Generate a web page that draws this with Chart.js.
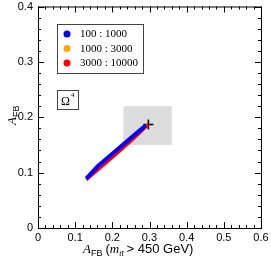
<!DOCTYPE html>
<html>
<head>
<meta charset="utf-8">
<script src="https://cdn.jsdelivr.net/npm/chart.js@4"></script>
<style>
  html, body { margin: 0; padding: 0; background: #fff; }
  #wrap { width: 271px; height: 262px; }
</style>
</head>
<body>
<div id="wrap"><canvas id="myChart" width="271" height="262"></canvas></div>
<script>
// Dữ liệu
const seriesLabels = ['100 : 1000', '1000 : 3000', '3000 : 10000'];
const seriesColors = ['#0000ff', '#ffa500', '#ff0000'];
const blueX = [0.13, 0.16, 0.20, 0.24, 0.27, 0.29];
const blueY = [0.089, 0.111, 0.134, 0.157, 0.174, 0.185];
const orangeX = [0.24, 0.27, 0.295];
const orangeY = [0.155, 0.172, 0.187];
const redX = [0.13, 0.17, 0.21, 0.25, 0.28, 0.297];
const redY = [0.087, 0.110, 0.133, 0.157, 0.176, 0.187];
const centralPoint = [0.297, 0.187];
const boxX = [0.23, 0.36];
const boxY = [0.15, 0.22];
const xTicks = [0, 0.1, 0.2, 0.3, 0.4, 0.5, 0.6];
const yTicks = [0, 0.1, 0.2, 0.3, 0.4];
const modelLabel = 'Ω';

function toPoints(xs, ys) {
    return xs.map((x, i) => ({ x: x, y: ys[i] }));
}

// Vẽ khung, vạch chia, hộp xám, chú thích
const decorPlugin = {
    id: 'decor',
    beforeDatasetsDraw(chart) {
        const ctx = chart.ctx;
        const xs = chart.scales.x, ys = chart.scales.y;
        ctx.save();
        ctx.fillStyle = '#dcdcdc';
        const x1 = xs.getPixelForValue(boxX[0]), x2 = xs.getPixelForValue(boxX[1]);
        const y1 = ys.getPixelForValue(boxY[1]), y2 = ys.getPixelForValue(boxY[0]);
        ctx.fillRect(x1, y1, x2 - x1, y2 - y1);
        ctx.restore();
    },
    afterDraw(chart) {
        const ctx = chart.ctx;
        const a = chart.chartArea;
        const xs = chart.scales.x, ys = chart.scales.y;
        ctx.save();
        ctx.strokeStyle = '#000';
        ctx.lineWidth = 1;
        ctx.strokeRect(a.left + 0.5, a.top + 0.5, a.right - a.left, a.bottom - a.top);

        // vạch chia hướng vào trong
        ctx.beginPath();
        for (let i = 0; i <= 30; i++) {
            const v = i * 0.02;
            const px = Math.round(xs.getPixelForValue(v)) + 0.5;
            const len = (i % 5 === 0) ? 6 : 3;
            ctx.moveTo(px, a.bottom); ctx.lineTo(px, a.bottom - len);
            ctx.moveTo(px, a.top); ctx.lineTo(px, a.top + len);
        }
        for (let i = 0; i <= 20; i++) {
            const v = i * 0.02;
            const py = Math.round(ys.getPixelForValue(v)) + 0.5;
            const len = (i % 5 === 0) ? 6 : 3;
            ctx.moveTo(a.left, py); ctx.lineTo(a.left + len, py);
            ctx.moveTo(a.right, py); ctx.lineTo(a.right - len, py);
        }
        ctx.stroke();

        // chú thích
        ctx.strokeStyle = '#444';
        ctx.strokeRect(57.5, 24.5, 86, 49);
        ctx.font = '11px "Liberation Serif", serif';
        ctx.textBaseline = 'middle';
        ctx.textAlign = 'left';
        seriesLabels.forEach((lab, i) => {
            const y = 34 + i * 14.5;
            ctx.fillStyle = seriesColors[i];
            ctx.beginPath();
            ctx.arc(67, y, 3.5, 0, Math.PI * 2);
            ctx.fill();
            ctx.fillStyle = '#000';
            ctx.fillText(lab, 80, y + 0.5);
        });

        // hộp Ω^4
        ctx.strokeRect(57.5, 90.5, 21, 19);
        ctx.font = '12px "Liberation Serif", serif';
        ctx.fillText(modelLabel, 61, 102);
        ctx.font = '7px "Liberation Serif", serif';
        ctx.fillText('4', 71, 95);

        // tiêu đề trục x
        ctx.textBaseline = 'alphabetic';
        let x = 83;
        const yb = 253;
        ctx.font = 'italic 13px "Liberation Serif", serif';
        ctx.fillText('A', x, yb); x += ctx.measureText('A').width;
        ctx.font = '9px "Liberation Sans", sans-serif';
        ctx.fillText('FB', x, yb + 3); x += ctx.measureText('FB').width + 3;
        ctx.font = '13px "Liberation Sans", sans-serif';
        ctx.fillText('(', x, yb); x += ctx.measureText('(').width;
        ctx.font = 'italic 13px "Liberation Serif", serif';
        ctx.fillText('m', x, yb); x += ctx.measureText('m').width;
        ctx.font = 'italic 8px "Liberation Serif", serif';
        ctx.fillText('tt̄', x, yb + 3); x += ctx.measureText('tt̄').width + 3;
        ctx.font = '13px "Liberation Sans", sans-serif';
        ctx.fillText('> 450 GeV)', x, yb);

        // tiêu đề trục y
        ctx.translate(16, 125);
        ctx.rotate(-Math.PI / 2);
        ctx.font = 'italic 13px "Liberation Serif", serif';
        ctx.fillText('A', 0, 0);
        const w = ctx.measureText('A').width;
        ctx.font = '9px "Liberation Sans", sans-serif';
        ctx.fillText('FB', w, 3);
        ctx.restore();
    }
};

const ctx = document.getElementById('myChart').getContext('2d');
new Chart(ctx, {
    type: 'scatter',
    data: {
        datasets: [
            {
                label: seriesLabels[0],
                data: toPoints(blueX, blueY),
                showLine: true,
                borderColor: seriesColors[0],
                borderWidth: 4,
                pointRadius: 0
            },
            {
                label: seriesLabels[2],
                data: toPoints(redX, redY),
                showLine: true,
                borderColor: seriesColors[2],
                borderWidth: 3,
                pointRadius: 0
            },
            {
                label: seriesLabels[1],
                data: toPoints(orangeX, orangeY),
                showLine: true,
                borderColor: seriesColors[1],
                borderWidth: 2,
                pointRadius: 0
            },
            {
                label: 'SM',
                data: [{ x: centralPoint[0], y: centralPoint[1] }],
                pointStyle: 'cross',
                pointRadius: 5,
                borderColor: '#000',
                borderWidth: 1.5,
                backgroundColor: '#000'
            }
        ]
    },
    options: {
        responsive: false,
        animation: false,
        layout: { padding: { top: 3, right: 10, left: 0, bottom: 0 } },
        plugins: { legend: { display: false }, tooltip: { enabled: false } },
        scales: {
            x: {
                type: 'linear',
                min: 0, max: 0.6,
                afterBuildTicks: s => { s.ticks = xTicks.map(v => ({ value: v })); },
                afterFit: s => { s.height = 34; s.paddingLeft = 0; s.paddingRight = 0; },
                grid: { display: false, drawTicks: false },
                border: { display: false },
                ticks: {
                    padding: 3,
                    color: '#000',
                    font: { family: '"Liberation Sans", sans-serif', size: 11 },
                    callback: v => v === 0 ? '0' : v.toFixed(1)
                }
            },
            y: {
                type: 'linear',
                min: 0, max: 0.4,
                afterBuildTicks: s => { s.ticks = yTicks.map(v => ({ value: v })); },
                afterFit: s => { s.width = 38; s.paddingTop = 0; s.paddingBottom = 0; },
                grid: { display: false, drawTicks: false },
                border: { display: false },
                ticks: {
                    padding: 5,
                    color: '#000',
                    font: { family: '"Liberation Sans", sans-serif', size: 11, lineHeight: 0.9 },
                    callback: v => v === 0 ? '0' : v.toFixed(1)
                }
            }
        }
    },
    plugins: [decorPlugin]
});
</script>
</body>
</html>
